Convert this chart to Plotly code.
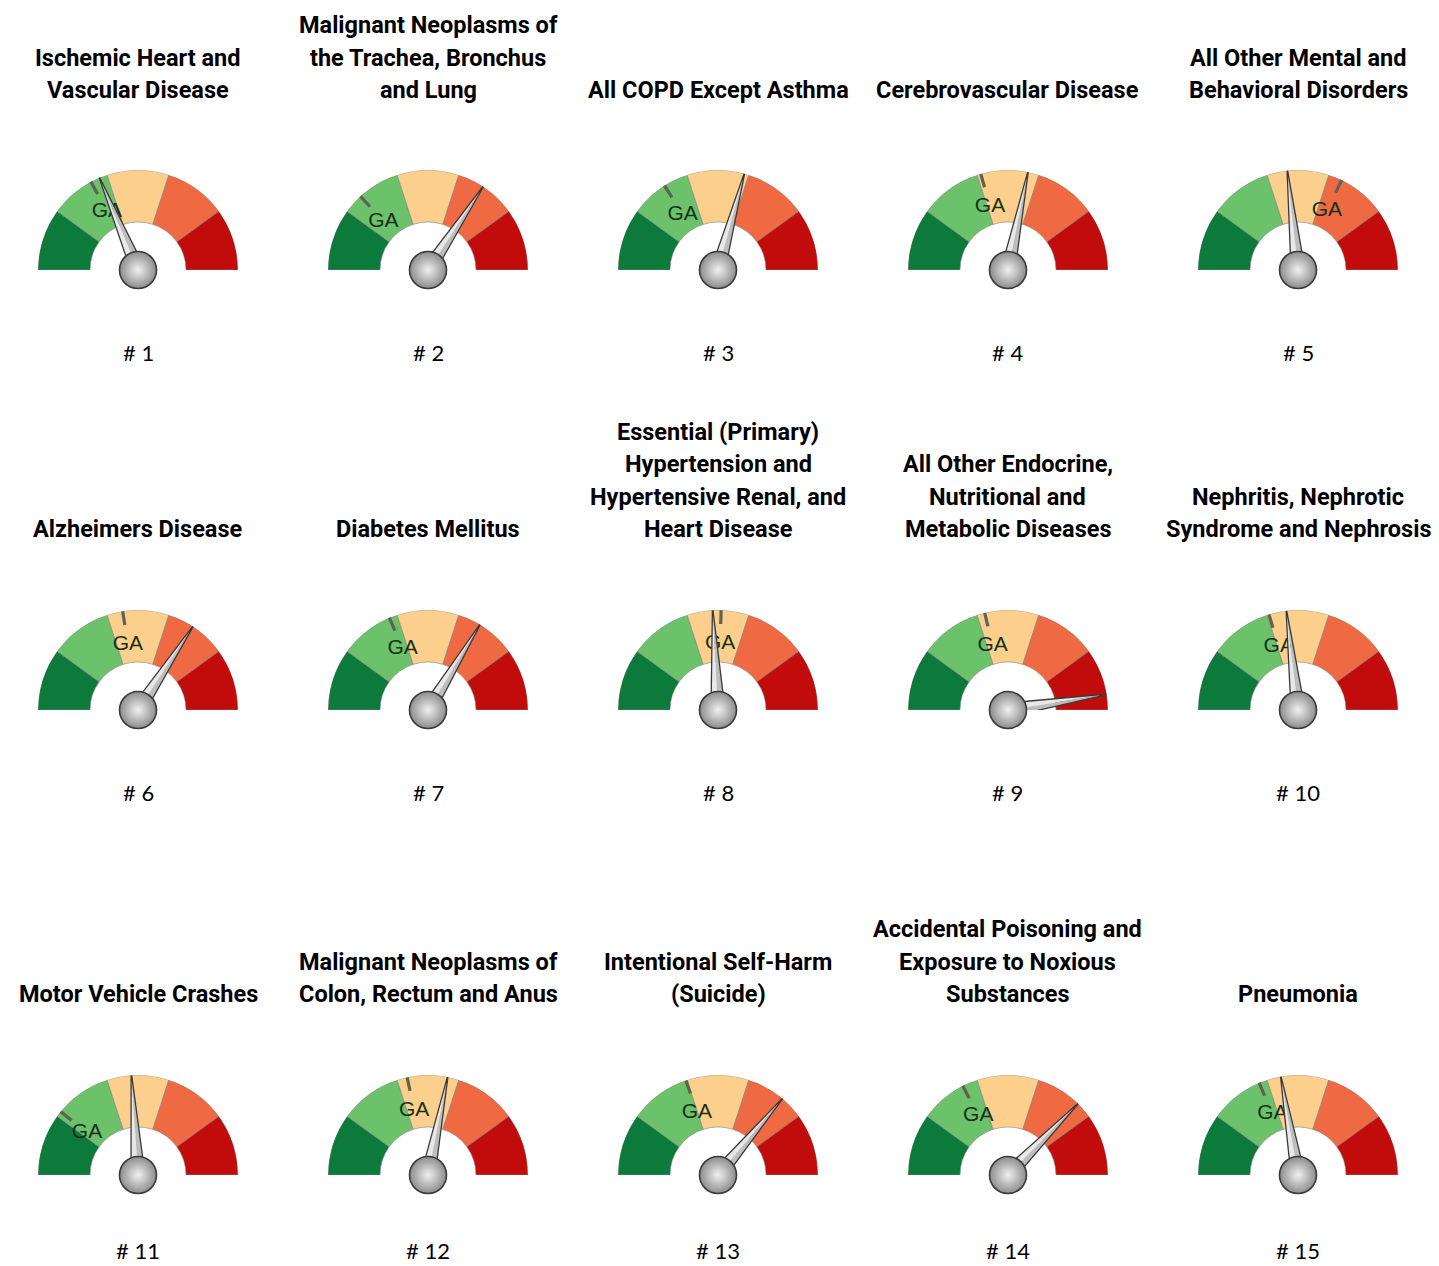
import plotly.graph_objects as go

# ---------------- data ----------------
titles = [
    "Ischemic Heart and<br>Vascular Disease",
    "Malignant Neoplasms of<br>the Trachea, Bronchus<br>and Lung",
    "All COPD Except Asthma",
    "Cerebrovascular Disease",
    "All Other Mental and<br>Behavioral Disorders",
    "Alzheimers Disease",
    "Diabetes Mellitus",
    "Essential (Primary)<br>Hypertension and<br>Hypertensive Renal, and<br>Heart Disease",
    "All Other Endocrine,<br>Nutritional and<br>Metabolic Diseases",
    "Nephritis, Nephrotic<br>Syndrome and Nephrosis",
    "Motor Vehicle Crashes",
    "Malignant Neoplasms of<br>Colon, Rectum and Anus",
    "Intentional Self-Harm<br>(Suicide)",
    "Accidental Poisoning and<br>Exposure to Noxious<br>Substances",
    "Pneumonia",
]
rank_labels = ["# 1", "# 2", "# 3", "# 4", "# 5", "# 6", "# 7", "# 8",
               "# 9", "# 10", "# 11", "# 12", "# 13", "# 14", "# 15"]
needle_values = [37.4, 68.6, 58.5, 56.4, 46.6,
                 68.5, 67.4, 48.3, 95.0, 46.3,
                 47.9, 56.3, 72.3, 74.7, 44.5]
ga_values = [34.4, 26.4, 32.0, 41.2, 64.4,
             45.1, 37.4, 51.0, 42.5, 40.6,
             21.9, 43.3, 39.6, 35.1, 37.3]
band_edges = [0, 20, 40, 60, 80, 100]
band_colors = ["#0b7a3a", "#6bc26b", "#fdcf8c", "#ef6943", "#c20c0c"]
scale_max = 100

# ---------------- layout constants ----------------
W, H = 1439, 1266
col_x = [138, 428, 718, 1008, 1298]
row_base = [270, 710, 1175]
row_title = [90, 529, 994]
row_label = [353, 792, 1250]
R = 100
line_gap = 32.3
inner = 0.48


def deg(v):
    return v * 180.0 / scale_max


fig = go.Figure()
layout_polars = {}
annotations = []

for i in range(len(titles)):
    rr, cc = divmod(i, 5)
    sub = "polar" if i == 0 else f"polar{i + 1}"
    cx, by = col_x[cc], row_base[rr]

    layout_polars[sub] = dict(
        domain=dict(x=[(cx - R) / W, (cx + R) / W], y=[1 - by / H, 1 - (by - R) / H]),
        sector=[0, 180],
        bgcolor="rgba(0,0,0,0)",
        radialaxis=dict(visible=False, range=[0, 1]),
        angularaxis=dict(visible=False, rotation=180, direction="clockwise"),
    )

    # colour bands
    mids = [deg((a + b) / 2) for a, b in zip(band_edges[:-1], band_edges[1:])]
    widths = [deg(b - a) for a, b in zip(band_edges[:-1], band_edges[1:])]
    fig.add_trace(go.Barpolar(
        r=[1 - inner] * len(mids), base=[inner] * len(mids), theta=mids, width=widths,
        marker=dict(color=band_colors, line=dict(color="rgba(130,130,130,0.6)", width=1)),
        subplot=sub, hoverinfo="skip", showlegend=False,
    ))

    # GA marker
    g = deg(ga_values[i])
    fig.add_trace(go.Scatterpolar(
        r=[0.86, 1.04], theta=[g, g], mode="lines",
        line=dict(color="#5e6352", width=3.2), cliponaxis=False,
        subplot=sub, hoverinfo="skip", showlegend=False,
    ))
    fig.add_trace(go.Scatterpolar(
        r=[0.66], theta=[g], mode="text", text=["GA"],
        textfont=dict(family="Liberation Sans", size=21, color="#173017"),
        cliponaxis=False, subplot=sub, hoverinfo="skip", showlegend=False,
    ))

    # needle
    t = deg(needle_values[i])
    hw, L = 0.07, 1.04
    fig.add_trace(go.Scatterpolar(
        r=[0, hw, L, 0], theta=[t, t - 90, t, t], mode="lines", fill="toself",
        fillcolor="#e8e8e8", line=dict(width=0, color="#e8e8e8"), cliponaxis=False,
        subplot=sub, hoverinfo="skip", showlegend=False,
    ))
    fig.add_trace(go.Scatterpolar(
        r=[0, hw, L, 0], theta=[t, t + 90, t, t], mode="lines", fill="toself",
        fillcolor="#bdbdbd", line=dict(width=0, color="#bdbdbd"), cliponaxis=False,
        subplot=sub, hoverinfo="skip", showlegend=False,
    ))
    fig.add_trace(go.Scatterpolar(
        r=[hw, L, hw], theta=[t - 90, t, t + 90], mode="lines",
        line=dict(color="#3a3a3a", width=1.3), cliponaxis=False,
        subplot=sub, hoverinfo="skip", showlegend=False,
    ))
    # needle hub
    fig.add_trace(go.Scatterpolar(
        r=[0], theta=[0], mode="markers",
        marker=dict(size=37, color="#8c8c8c",
                    gradient=dict(type="radial", color="#f0f0f0"),
                    line=dict(color="#3a3a3a", width=1.6)),
        cliponaxis=False, subplot=sub, hoverinfo="skip", showlegend=False,
    ))

    # title lines
    lines = titles[i].split("<br>")
    n = len(lines)
    for j, ln in enumerate(lines):
        ypx = row_title[rr] - (n - 1 - j) * line_gap
        annotations.append(dict(
            text=ln, x=cx / W, y=1 - ypx / H, xref="paper", yref="paper",
            xanchor="center", yanchor="middle", showarrow=False,
            font=dict(family="Roboto", size=23.5, color="#000000", weight=700),
        ))
    annotations.append(dict(
        text=rank_labels[i], x=cx / W, y=1 - row_label[rr] / H, xref="paper", yref="paper",
        xanchor="center", yanchor="middle", showarrow=False,
        font=dict(family="Lato", size=22, color="#000000"),
    ))

fig.update_layout(
    width=W, height=H,
    margin=dict(l=0, r=0, t=0, b=0),
    paper_bgcolor="white", plot_bgcolor="white",
    showlegend=False,
    annotations=annotations,
    **layout_polars,
)

fig.write_html(
    "out.html",
    config={"displayModeBar": False},
    post_script="document.body.style.margin='0';document.body.style.overflow='hidden';",
)
